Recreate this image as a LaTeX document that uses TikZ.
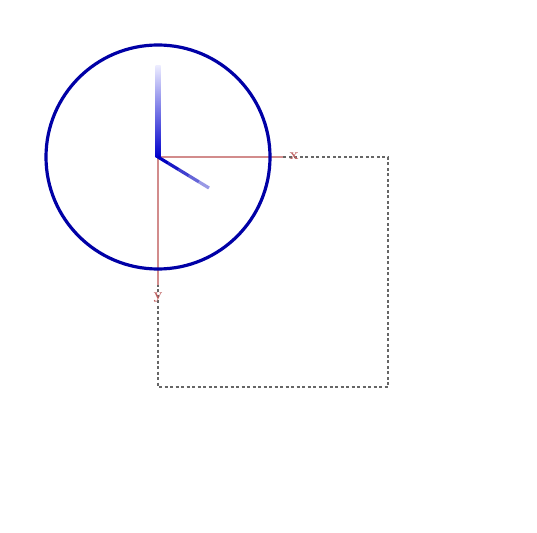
\documentclass[tikz,border=0pt]{standalone}
\usetikzlibrary{calc}
\definecolor{axisred}{RGB}{210,140,140}
\definecolor{labred}{RGB}{190,95,95}
\begin{document}
\begin{tikzpicture}[x=1pt,y=-1pt,
  frame/.style={draw=black!60,line width=2.2pt,dash pattern=on 3pt off 2.5pt},
  axis/.style={draw=axisred,line width=2.8pt},
  axlabel/.style={text=labred,font=\fontsize{15}{15}\selectfont\bfseries,inner sep=0pt},
  dial/.style={draw=blue!65!black,line width=3.2pt}]
\useasboundingbox (0,0) rectangle (537,532);
\fill[white] (0,0) rectangle (537,532);
\coordinate (c) at (158,157);
\coordinate (br) at (388,387);
\draw[frame] (c) rectangle (br);
\draw[axis] (c) -- (283,157);
\draw[axis] (c) -- (158,285);
\node[axlabel] (xl) at (294,156) {x};
\node[axlabel] (yl) at (158,298) {y};
\draw[dial] (c) circle[radius=112];
\shade[top color=blue!8, bottom color=blue!80!black] (155.5,66) rectangle (160.5,157);
\foreach \t/\o in {0/1,0.2/0.9,0.4/0.75,0.6/0.6,0.8/0.4}{
  \draw[blue!75!black,line width=3.2pt,draw opacity=\o] ($(c)!\t!(209,188)$) -- ($(c)!\t+0.2!(209,188)$);
}
\end{tikzpicture}
\end{document}
